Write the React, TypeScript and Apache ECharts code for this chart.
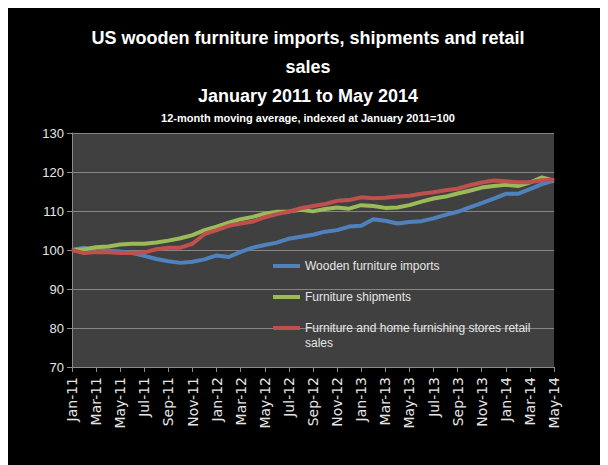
import React, { useEffect, useRef } from "react";
import * as echarts from "echarts";

const months: string[] = [
  "Jan-11", "Feb-11", "Mar-11", "Apr-11", "May-11", "Jun-11", "Jul-11", "Aug-11", "Sep-11", "Oct-11", "Nov-11", "Dec-11",
  "Jan-12", "Feb-12", "Mar-12", "Apr-12", "May-12", "Jun-12", "Jul-12", "Aug-12", "Sep-12", "Oct-12", "Nov-12", "Dec-12",
  "Jan-13", "Feb-13", "Mar-13", "Apr-13", "May-13", "Jun-13", "Jul-13", "Aug-13", "Sep-13", "Oct-13", "Nov-13", "Dec-13",
  "Jan-14", "Feb-14", "Mar-14", "Apr-14", "May-14",
];

const woodenImports: number[] = [
  100, 100.6, 99.7, 99.8, 99.6, 99.2, 98.5, 97.7, 97.1, 96.7, 97.0, 97.6,
  98.6, 98.2, 99.5, 100.6, 101.3, 101.9, 102.9, 103.4, 103.9, 104.7, 105.1, 106.0,
  106.2, 107.9, 107.5, 106.8, 107.2, 107.4, 108.1, 109.0, 109.8, 110.9, 112.0, 113.2,
  114.4, 114.4, 115.6, 116.9, 117.8,
];

const shipments: number[] = [
  100, 100.2, 100.7, 100.9, 101.4, 101.6, 101.6, 101.9, 102.4, 103.0, 103.8, 105.1,
  106.0, 107.0, 107.9, 108.5, 109.3, 109.8, 109.9, 110.3, 109.9, 110.5, 110.9, 110.6,
  111.5, 111.3, 110.8, 110.9, 111.5, 112.4, 113.2, 113.7, 114.5, 115.2, 116.0, 116.4,
  116.7, 116.4, 117.3, 118.6, 117.8,
];

const retailSales: number[] = [
  100, 99.2, 99.5, 99.4, 99.2, 99.2, 99.4, 100.2, 100.6, 100.6, 101.6, 104.1,
  105.1, 106.2, 106.8, 107.3, 108.4, 109.2, 109.8, 110.7, 111.3, 111.8, 112.6, 112.8,
  113.5, 113.3, 113.4, 113.7, 113.9, 114.4, 114.8, 115.3, 115.7, 116.6, 117.3, 117.8,
  117.6, 117.4, 117.4, 117.9, 118.0,
];

const seriesNames: string[] = [
  "Wooden furniture imports",
  "Furniture shipments",
  "Furniture and home furnishing stores retail sales",
];
const legendFirstLines: string[] = [
  "Wooden furniture imports",
  "Furniture shipments",
  "Furniture and home furnishing stores retail",
];
const legendSecondLine = "sales";

const colors = ["#4F81BD", "#9BBB59", "#C0504D"];
const FONT = "'Liberation Sans', Arial, sans-serif";
const AXIS_FONT = "'DejaVu Sans', sans-serif";
const TEXT = "#E6E6E6";

export default function App() {
  const ref = useRef<HTMLDivElement>(null);

  useEffect(() => {
    if (!ref.current) return;
    const chart = echarts.init(ref.current, undefined, { renderer: "svg" });
    const data = [woodenImports, shipments, retailSales];
    chart.setOption({
      animation: false,
      backgroundColor: "#000000",
      title: {
        left: "center",
        top: 15,
        padding: 0,
        itemGap: 0,
        text: "US wooden furniture imports, shipments and retail\nsales\nJanuary 2011 to May 2014",
        subtext: "12-month moving average, indexed at January 2011=100",
        textStyle: { color: "#FFFFFF", fontFamily: FONT, fontSize: 18, fontWeight: "bold", lineHeight: 29 },
        subtextStyle: { color: "#FFFFFF", fontFamily: FONT, fontSize: 11, fontWeight: "bold", lineHeight: 16 },
      },
      grid: { left: 64, right: 54, top: 125, bottom: 98, show: true, backgroundColor: "#404040", borderWidth: 0 },
      legend: {
        orient: "vertical",
        left: 265,
        top: 250,
        padding: 0,
        itemGap: 15,
        itemWidth: 27,
        itemHeight: 4,
        icon: "rect",
        data: seriesNames,
        formatter: (name: string) => legendFirstLines[seriesNames.indexOf(name)],
        textStyle: { color: TEXT, fontFamily: FONT, fontSize: 12, lineHeight: 16 },
      },
      graphic: [
        {
          type: "text",
          left: 297,
          top: 329,
          style: { text: legendSecondLine, fill: TEXT, font: `12px ${FONT}` },
        },
      ],
      xAxis: {
        type: "category",
        data: months,
        boundaryGap: false,
        axisLine: { lineStyle: { color: "#8C8C8C", width: 1 } },
        axisTick: { show: true, interval: 1, length: 5, lineStyle: { color: "#8C8C8C" } },
        axisLabel: { interval: 1, rotate: 90, color: TEXT, fontFamily: AXIS_FONT, fontSize: 14, margin: 10 },
        splitLine: { show: false },
      },
      yAxis: {
        type: "value",
        min: 70,
        max: 130,
        interval: 10,
        axisLine: { show: true, lineStyle: { color: "#8C8C8C", width: 1 } },
        axisTick: { show: true, length: 5, lineStyle: { color: "#8C8C8C" } },
        axisLabel: { color: TEXT, fontFamily: FONT, fontSize: 13, margin: 8 },
        splitLine: { show: true, lineStyle: { color: "#858585", width: 1 } },
      },
      series: seriesNames.map((name, i) => ({
        name,
        type: "line",
        data: data[i],
        showSymbol: false,
        symbol: "none",
        color: colors[i],
        lineStyle: { width: 4, color: colors[i] },
        z: 2 + i,
      })),
    });
    return () => chart.dispose();
  }, []);

  return <div ref={ref} style={{ width: 600, height: 457 }} />;
}
